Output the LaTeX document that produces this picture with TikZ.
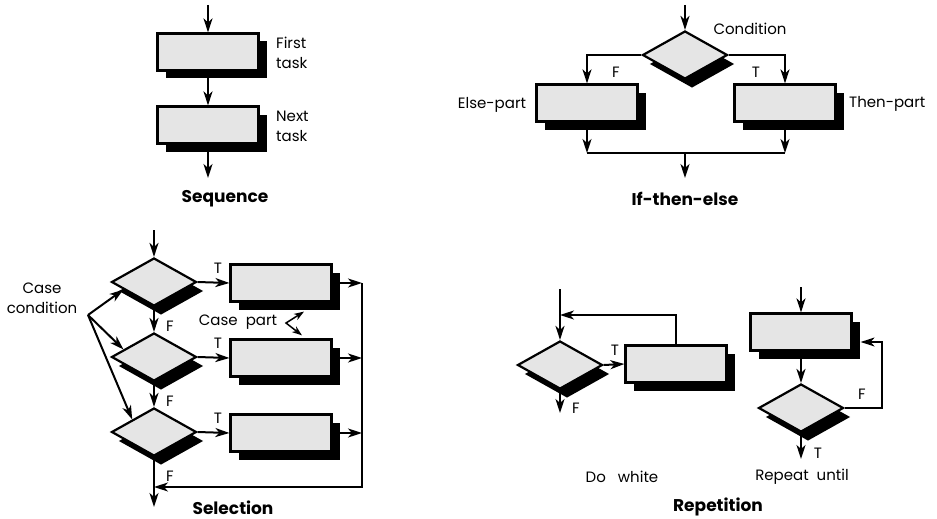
\documentclass[tikz,border=0pt]{standalone}
\usepackage{fontspec}
\setmainfont{Poppins}
\usetikzlibrary{arrows.meta,shapes.geometric,shadows,calc}

\tikzset{
  task/.style={draw, rectangle, line width=2.2pt, fill=gray!20, minimum width=101pt,
    minimum height=37pt, inner sep=0pt,
    general shadow={fill=black, shadow xshift=8pt, shadow yshift=-8pt}},
  test/.style={draw, diamond, line width=2.2pt, fill=gray!20, minimum width=85pt,
    minimum height=48pt, inner sep=0pt,
    general shadow={fill=black, shadow xshift=7pt, shadow yshift=-9pt}},
  flow/.style={-{Stealth[length=14pt,width=9pt,inset=4pt]}, line width=2pt},
  lbl/.style={font=\fontsize{15}{20}\selectfont, inner sep=0pt},
  title/.style={font=\fontsize{17}{20}\selectfont\bfseries, inner sep=0pt}
}

\begin{document}
\begin{tikzpicture}[x=1pt, y=-1pt]
  \useasboundingbox (0,0) rectangle (937,519);

  % Sequence
  \node[task] (first) at (208,52) {};
  \node[task] (next) at (208,125) {};
  \coordinate (seqin) at (208,5);
  \coordinate (seqout) at (208,178);
  \draw[flow] (seqin) -- (first);
  \draw[flow] (first) -- (next);
  \draw[flow] (next) -- (seqout);
  \node[lbl, align=left, anchor=west] (firsttxt) at (276,53) {First\\task};
  \node[lbl, align=left, anchor=west] (nexttxt) at (276,126) {Next\\task};
  \node[title] (seqtitle) at (225,199) {Sequence};

  % If-then-else
  \node[test] (cond) at (685,55) {};
  \node[task] (elsepart) at (587,103) {};
  \node[task] (thenpart) at (785,103) {};
  \coordinate (ifin) at (685,5);
  \coordinate (ifjoin) at (685,153);
  \coordinate (ifout) at (685,178);
  \draw[flow] (ifin) -- (cond);
  \draw[flow] (cond.west) -| (elsepart.north);
  \draw[flow] (cond.east) -| (thenpart.north);
  \draw[flow] (elsepart.south) -- (elsepart.south |- ifjoin);
  \draw[flow] (thenpart.south) -- (thenpart.south |- ifjoin);
  \draw[line width=2pt] (elsepart.south |- ifjoin) -- (thenpart.south |- ifjoin);
  \draw[flow] (ifjoin) -- (ifout);
  \node[lbl] (ftxt) at (616,72) {F};
  \node[lbl] (ttxt) at (756,72) {T};
  \node[lbl] (condtxt) at (750,29) {Condition};
  \node[lbl] (elsetxt) at (492,105) {Else-part};
  \node[lbl, anchor=west] (thentxt) at (849,104) {Then-part};
  \node[title] (iftitle) at (685,199) {If-then-else};

  % Selection
  \node[test] (sel1) at (154,282) {};
  \node[test] (sel2) at (154,357) {};
  \node[test] (sel3) at (154,432) {};
  \node[task] (case1) at (281,283) {};
  \node[task] (case2) at (281,358) {};
  \node[task] (case3) at (281,433) {};
  \coordinate (selin) at (154,230);
  \coordinate (selout) at (154,507);
  \coordinate (bus) at (362,487);
  \coordinate (fan) at (88,315);
  \draw[flow] (selin) -- (sel1);
  \draw[flow] (sel1) -- (sel2);
  \draw[flow] (sel2) -- (sel3);
  \draw[flow] (sel3) -- (selout);
  \draw[flow] (sel1.east) -- (case1.west);
  \draw[flow] (sel2.east) -- (case2.west);
  \draw[flow] (sel3.east) -- (case3.west);
  \draw[flow] (case1.east) -- (case1.east -| bus);
  \draw[flow] (case2.east) -- (case2.east -| bus);
  \draw[flow] (case3.east) -- (case3.east -| bus);
  \draw[flow, line width=1.5pt] (case1.east -| bus) -- (bus) -- (bus -| sel3.south);
  \draw[flow] (fan) -- ($(sel1.west)!0.3!(sel1.south)$);
  \draw[flow] (fan) -- ($(sel2.west)!0.3!(sel2.north)$);
  \draw[flow] (fan) -- ($(sel3.west)!0.5!(sel3.north)$);
  \foreach \i/\y in {1/268,2/343,3/418} {
    \node[lbl] (seltt\i) at (218,\y) {T};
  }
  \foreach \i/\y in {1/326,2/401,3/476} {
    \node[lbl] (selff\i) at (170,\y) {F};
  }
  \node[lbl, align=center] (casecond) at (42,298) {Case\\condition};
  \node[lbl] (casepart) at (238,322) {Case~~part};
  \coordinate (kink) at (286,323);
  \draw[{Stealth[length=10pt,width=7pt,inset=3pt]}-{Stealth[length=10pt,width=7pt,inset=3pt]}, line width=1.5pt]
    ($(case1.south)+(23,9)$) -- (kink) -- ($(case2.north)+(21,-3)$);
  \node[title] (seltitle) at (233,508) {Selection};

  % Repetition
  \node[test] (whiletest) at (560,365) {};
  \node[task] (whilebody) at (676,364) {};
  \coordinate (whilein) at (560,289);
  \coordinate (whileback) at (560,315);
  \coordinate (whileout) at (560,413);
  \draw[flow] (whilein) -- (whiletest);
  \draw[flow] (whiletest.east) -- (whilebody.west);
  \draw[flow] (whilebody.north) |- (whileback);
  \draw[flow] (whiletest) -- (whileout);
  \node[lbl] (whilet) at (615,350) {T};
  \node[lbl] (whilef) at (576,408) {F};
  \node[lbl] (whiletxt) at (622,477) {Do~~~white};

  \node[task] (repbody) at (801,332) {};
  \node[test] (reptest) at (801,408) {};
  \coordinate (repin) at (801,287);
  \coordinate (repout) at (801,459);
  \coordinate (reploop) at (882,342);
  \draw[flow] (repin) -- (repbody);
  \draw[flow] (repbody) -- (reptest);
  \draw[flow] (reptest) -- (repout);
  \draw[flow, line width=1.5pt] (reptest.east) -| (reploop) -- ($(repbody.east |- reploop)+(8,0)$);
  \node[lbl] (rept) at (818,453) {T};
  \node[lbl] (repf) at (862,394) {F};
  \node[lbl] (reptxt) at (802,477) {Repeat~~until};
  \node[title] (reptitle) at (718,507) {Repetition};
\end{tikzpicture}
\end{document}
